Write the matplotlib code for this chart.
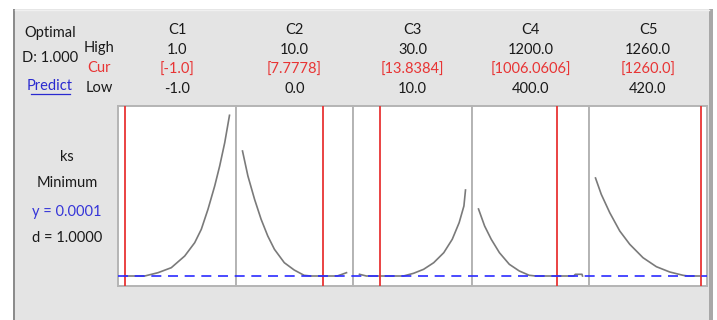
import matplotlib.pyplot as plt
from matplotlib.patches import Rectangle
from matplotlib.lines import Line2D

# factor settings shown in the optimizer header
factors = ['C1', 'C2', 'C3', 'C4', 'C5']
high = [1.0, 10.0, 30.0, 1200.0, 1260.0]
low = [-1.0, 0.0, 10.0, 400.0, 420.0]
cur = [-1.0, 7.7778, 13.8384, 1006.0606, 1260.0]

# response ks traced across each factor range
ks_x = [
    [-1.0, -0.615, -0.362, -0.109, 0.147, 0.337, 0.463, 0.59, 0.718, 0.813, 0.909, 1.0],
    [0.0, 0.52, 1.16, 1.79, 2.43, 3.07, 4.02, 4.97, 5.92, 6.55, 9.1, 9.57, 10.0],
    [10.0, 11.3, 18.3, 20.2, 22.1, 24.0, 25.9, 27.5, 28.8, 29.7, 30.0],
    [400.0, 447.0, 498.0, 561.0, 637.0, 714.0, 790.0, 840.0, 1133.0, 1145.0, 1196.0, 1200.0],
    [420.0, 466.0, 534.0, 614.0, 694.0, 800.0, 907.0, 1014.0, 1120.0, 1160.0, 1260.0],
]
ks_y = [
    [0.0001, 0.0001, 0.00043, 0.00093, 0.0021, 0.00343, 0.00477, 0.00677, 0.0091, 0.0111,
     0.01343, 0.01617],
    [0.0126, 0.0101, 0.00777, 0.00577, 0.0041, 0.00277, 0.00143, 0.0007, 0.00017, 0.0001,
     0.0001, 0.00027, 0.00043],
    [0.00027, 0.0001, 0.0001, 0.00037, 0.00077, 0.00143, 0.00243, 0.00377, 0.00543, 0.0071,
     0.0087],
    [0.0068, 0.0051, 0.00377, 0.00243, 0.00127, 0.0006, 0.00017, 0.0001, 0.0001, 0.00027,
     0.00027, 0.0001],
    [0.0099, 0.00827, 0.00643, 0.0046, 0.00327, 0.00193, 0.00103, 0.0005, 0.00017, 0.0001,
     0.0001],
]
target_y = 0.0001
goal_d = 1.0
composite_d = 1.0

W, H = 717, 320
plt.rcParams['font.family'] = ['Lato', 'DejaVu Sans']
fig = plt.figure(figsize=(W / 100, H / 100), dpi=100, facecolor='white')


def fx(x):
    return x / W


def fy(y):
    return 1 - y / H


# grey window with dark side borders, kept behind the panels
bg = dict(edgecolor='none', transform=fig.transFigure, zorder=-10)
fig.add_artist(Rectangle((fx(15), 0), fx(694), fy(9), facecolor='#e4e4e4', **bg))
fig.add_artist(Rectangle((fx(13), 0), fx(2.5), fy(9), facecolor='#8c8c8c', **bg))
fig.add_artist(Rectangle((fx(709), 0), fx(4), fy(9), facecolor='#a8a8a8', **bg))
fig.add_artist(Line2D([fx(15), fx(709)], [fy(9.5), fy(9.5)], color='#f0f0f0', lw=1, zorder=-9))

edges = [118, 236, 353, 472, 589, 707]
top, bottom = 106, 286
ylim = (0.0001 - 0.001, 0.0001 + 0.017)
pad = 6.5
fs = 10.5
text_c = '#1a1a1a'
red = '#e83434'
blue = '#3535d8'

for i, name in enumerate(factors):
    left, right = edges[i], edges[i + 1]
    ax = fig.add_axes([fx(left), fy(bottom), fx(right - left), (bottom - top) / H])
    span = high[i] - low[i]
    m = span * pad / (right - left - 2 * pad)
    ax.set_xlim(low[i] - m, high[i] + m)
    ax.set_ylim(*ylim)
    ax.set_xticks([])
    ax.set_yticks([])
    for s in ax.spines.values():
        s.set_color('#b4b4b4')
        s.set_linewidth(1.4)
    ax.plot(ks_x[i], ks_y[i], color='#7a7a7a', lw=1.2, solid_joinstyle='round')
    ax.axvline(cur[i], color=red, lw=1.3, zorder=3)

    cx = (left + right) / 2
    fig.text(fx(cx), fy(30), name, ha='center', va='center', fontsize=fs, color=text_c)
    fig.text(fx(cx), fy(50), f'{high[i]:.1f}', ha='center', va='center', fontsize=fs, color=text_c)
    fig.text(fx(cx), fy(70), f'[{cur[i]}]', ha='center', va='center', fontsize=fs, color=red)
    fig.text(fx(cx), fy(89), f'{low[i]:.1f}', ha='center', va='center', fontsize=fs, color=text_c)

# target line drawn once across all panels
over = fig.add_axes([fx(edges[0]), fy(bottom), fx(edges[-1] - edges[0]), (bottom - top) / H])
over.set_ylim(*ylim)
over.axis('off')
over.patch.set_alpha(0)
over.axhline(target_y, color='#2b2bff', lw=1.2, dashes=(6, 4), zorder=5)

# left-hand labels
fig.text(fx(50), fy(33), 'Optimal', ha='center', va='center', fontsize=fs, color=text_c)
fig.text(fx(50), fy(58), f'D: {composite_d:.3f}', ha='center', va='center', fontsize=fs, color=text_c)
fig.text(fx(50), fy(86), 'Predict', ha='center', va='center', fontsize=fs, color='#2a2ad0')
fig.add_artist(Line2D([fx(31), fx(70)], [fy(94), fy(94)], color='#2a2ad0', lw=0.9))
fig.text(fx(99), fy(48), 'High', ha='center', va='center', fontsize=fs, color=text_c)
fig.text(fx(99), fy(68), 'Cur', ha='center', va='center', fontsize=fs, color=red)
fig.text(fx(99), fy(88), 'Low', ha='center', va='center', fontsize=fs, color=text_c)

fig.text(fx(67), fy(157), 'ks', ha='center', va='center', fontsize=fs, color=text_c)
fig.text(fx(67), fy(183), 'Minimum', ha='center', va='center', fontsize=fs, color=text_c)
fig.text(fx(67), fy(212), f'y = {target_y:.4f}', ha='center', va='center', fontsize=fs, color=blue)
fig.text(fx(67), fy(238), f'd = {goal_d:.4f}', ha='center', va='center', fontsize=fs, color=text_c)

fig.savefig('out.png', dpi=100, facecolor=fig.get_facecolor())
